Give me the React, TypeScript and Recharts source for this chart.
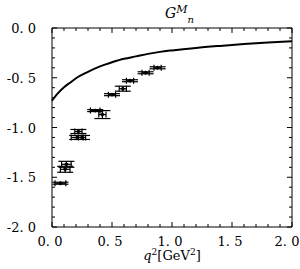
import React from 'react';
import { ComposedChart, Line, Scatter, ErrorBar, XAxis, YAxis, ReferenceLine } from 'recharts';

// theory curve
const curveQ2 = [0, 0.05, 0.1, 0.15, 0.2, 0.3, 0.4, 0.5, 0.6, 0.7, 0.8, 0.9, 1.0, 1.2, 1.4, 1.6, 1.8, 2.0];
const curveG = [-0.73, -0.655, -0.595, -0.55, -0.505, -0.44, -0.385, -0.345, -0.31, -0.285, -0.26, -0.24, -0.225, -0.2, -0.18, -0.162, -0.146, -0.133];

// measured points with errors
const dataQ2 = [0.07, 0.12, 0.11, 0.22, 0.21, 0.25, 0.36, 0.42, 0.5, 0.59, 0.65, 0.78, 0.88];
const dataG = [-1.56, -1.37, -1.42, -1.04, -1.1, -1.1, -0.83, -0.87, -0.67, -0.61, -0.53, -0.45, -0.4];
const dataErrQ2 = [0.045, 0.04, 0.04, 0.03, 0.05, 0.03, 0.04, 0.03, 0.03, 0.03, 0.03, 0.03, 0.03];
const dataErrG = [0.01, 0.03, 0.03, 0.02, 0.02, 0.02, 0.01, 0.04, 0.01, 0.025, 0.01, 0.01, 0.01];

const xTicks = [0, 0.1, 0.2, 0.3, 0.4, 0.5, 0.6, 0.7, 0.8, 0.9, 1.0, 1.1, 1.2, 1.3, 1.4, 1.5, 1.6, 1.7, 1.8, 1.9, 2.0];
const yTicks = [-2.0, -1.9, -1.8, -1.7, -1.6, -1.5, -1.4, -1.3, -1.2, -1.1, -1.0, -0.9, -0.8, -0.7, -0.6, -0.5, -0.4, -0.3, -0.2, -0.1, 0];
const xLabels = [0, 0.5, 1.0, 1.5, 2.0];
const yLabels = [-2.0, -1.5, -1.0, -0.5, 0];

const curve = curveQ2.map((x, i) => ({ x, y: curveG[i] }));
const points = dataQ2.map((x, i) => ({ x, y: dataG[i], ex: dataErrQ2[i], ey: dataErrG[i] }));

const FONT = '"DejaVu Serif", "Liberation Serif", serif';

const isMajor = (v: number) => Math.abs(v * 2 - Math.round(v * 2)) < 1e-6;
const fmt = (v: number) => {
  const s = Math.abs(v).toFixed(1).replace('.', '. ');
  return (v < -1e-9 ? '-' : '') + s;
};

const renderBottomLabel = (p: any) => (
  <text x={Math.min(p.x - 2, 287)} y={p.y + 19} textAnchor="middle" fontFamily={FONT} fontSize={13} fill="#000">
    {fmt(p.payload.value)}
  </text>
);

const renderLeftLabel = (p: any) => (
  <text x={p.x - 16} y={p.y + 5} textAnchor="end" fontFamily={FONT} fontSize={13} fill="#000">
    {fmt(p.payload.value)}
  </text>
);

const PointShape = ({ cx, cy }: any) => (
  <path d={`M${cx - 2.5},${cy} L${cx},${cy - 2.2} L${cx + 2.5},${cy} L${cx},${cy + 2.2} Z`} fill="#000" />
);

// inward tick lengths in data units (px / scale)
const xTickLen = (v: number) => (isMajor(v) ? 0.05 : 0.03);
const yTickLen = (v: number) => (isMajor(v) ? 0.042 : 0.025);

export default function App() {
  return (
    <div style={{ position: 'absolute', left: 0, top: 0, width: 300, height: 269, background: '#fff' }}>
      <ComposedChart width={300} height={269} margin={{ top: 28, right: 8, left: 0, bottom: 0 }}>
        <XAxis
          type="number"
          dataKey="x"
          domain={[0, 2]}
          ticks={xLabels}
          interval={0}
          height={42}
          tick={renderBottomLabel}
          tickLine={false}
          tickSize={0}
          tickMargin={0}
          axisLine={{ stroke: '#000' }}
        />
        <YAxis
          type="number"
          dataKey="y"
          domain={[-2, 0]}
          ticks={yLabels}
          interval={0}
          width={52}
          tick={renderLeftLabel}
          tickLine={false}
          tickSize={0}
          tickMargin={0}
          axisLine={{ stroke: '#000' }}
        />
        <ReferenceLine y={0} stroke="#000" ifOverflow="visible" />
        <ReferenceLine x={2} stroke="#000" ifOverflow="visible" />
        {xTicks.map((v) => (
          <ReferenceLine
            key={`xb-${v}`}
            segment={[{ x: v, y: -2 }, { x: v, y: -2 + xTickLen(v) }]}
            stroke="#000"
            ifOverflow="visible"
          />
        ))}
        {xTicks.map((v) => (
          <ReferenceLine
            key={`xt-${v}`}
            segment={[{ x: v, y: 0 }, { x: v, y: -xTickLen(v) }]}
            stroke="#000"
            ifOverflow="visible"
          />
        ))}
        {yTicks.map((v) => (
          <ReferenceLine
            key={`yl-${v}`}
            segment={[{ x: 0, y: v }, { x: yTickLen(v), y: v }]}
            stroke="#000"
            ifOverflow="visible"
          />
        ))}
        {yTicks.map((v) => (
          <ReferenceLine
            key={`yr-${v}`}
            segment={[{ x: 2, y: v }, { x: 2 - yTickLen(v), y: v }]}
            stroke="#000"
            ifOverflow="visible"
          />
        ))}
        <Line
          data={curve}
          dataKey="y"
          type="monotone"
          stroke="#000"
          strokeWidth={2}
          dot={false}
          isAnimationActive={false}
        />
        <Scatter data={points} dataKey="y" shape={<PointShape />} isAnimationActive={false}>
          <ErrorBar dataKey="ey" direction="y" width={8} stroke="#000" strokeWidth={1.2} isAnimationActive={false} />
          <ErrorBar dataKey="ex" direction="x" width={3} stroke="#000" strokeWidth={1.2} isAnimationActive={false} />
        </Scatter>
      </ComposedChart>
      <svg width={300} height={269} style={{ position: 'absolute', left: 0, top: 0, pointerEvents: 'none' }}>
        <text x={165} y={18} fontFamily={FONT} fontStyle="italic" fontSize={14} fill="#000">
          G
          <tspan dy={-5} fontSize={11}>M</tspan>
          <tspan dx={0} dy={10} fontSize={10}>n</tspan>
        </text>
        <text x={172} y={260} textAnchor="middle" fontFamily={FONT} fontSize={13} fill="#000">
          <tspan fontStyle="italic">q</tspan>
          <tspan dy={-5} fontSize={9}>2</tspan>
          <tspan dy={5}>[GeV</tspan>
          <tspan dy={-5} fontSize={9}>2</tspan>
          <tspan dy={5}>]</tspan>
        </text>
      </svg>
    </div>
  );
}
